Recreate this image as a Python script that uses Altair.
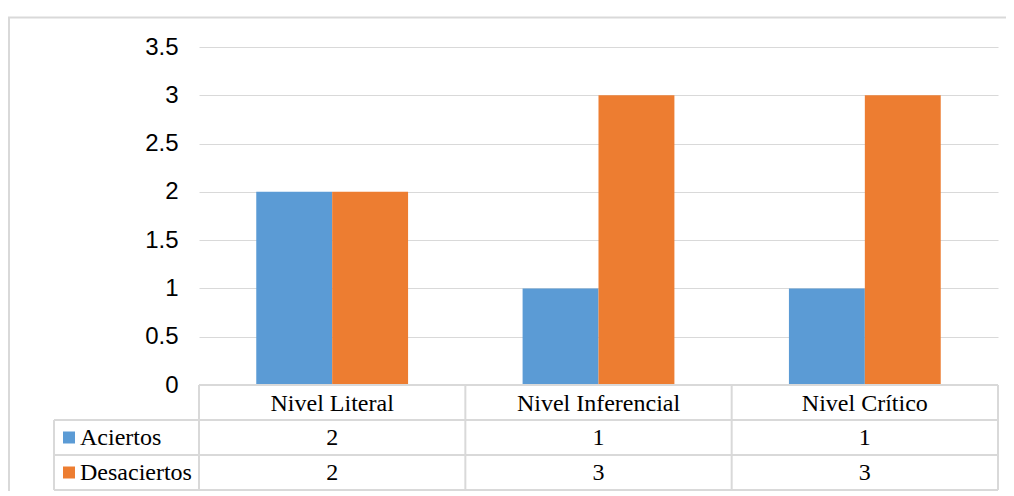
import altair as alt
import pandas as pd

categories = ["Nivel Literal", "Nivel Inferencial", "Nivel Crítico"]
series = ["Aciertos", "Desaciertos"]
aciertos = [2, 1, 1]
desaciertos = [2, 3, 3]
y_ticks = [0, 0.5, 1, 1.5, 2, 2.5, 3, 3.5]
colors = ["#5B9BD5", "#ED7D31"]

rows = []
for c, a, d in zip(categories, aciertos, desaciertos):
    rows.append({"Nivel": c, "Serie": series[0], "Valor": a})
    rows.append({"Nivel": c, "Serie": series[1], "Valor": d})
df = pd.DataFrame(rows)
cat_df = pd.DataFrame({"Nivel": categories})
ser_df = pd.DataFrame({"Serie": series})

# layout (pixels)
W = 799
BAR_H = 338           # height of the 0..3.5 region
ROW = 35              # table row height
H = BAR_H + 3 * ROW
Y_MAX = 3.5
px_per_unit = BAR_H / Y_MAX
Y_MIN = -(3 * ROW) / px_per_unit
STEP = W / 3
LEFT_COL = 145
GRID = "#d9d9d9"
SERIF = "Liberation Serif"

xs = alt.X("Nivel:N", sort=categories,
           scale=alt.Scale(paddingInner=0.43, paddingOuter=0.215), axis=None)
ys = alt.Y("Valor:Q", scale=alt.Scale(domain=[Y_MIN, Y_MAX], nice=False, zero=False),
           axis=alt.Axis(values=y_ticks, grid=True, domain=False, ticks=False,
                         labelFont="Liberation Sans", labelFontSize=24, labelColor="#000000",
                         labelPadding=21, gridColor=GRID, gridWidth=1.2, title=None,
                         labelExpr="datum.value"))
col = alt.Color("Serie:N", scale=alt.Scale(domain=series, range=colors), legend=None)

one = pd.DataFrame({"k": [0]})

border = alt.Chart(one).mark_rect(fill="transparent", stroke=GRID, strokeWidth=2).encode(
    x=alt.value(-190), x2=alt.value(W + 40), y=alt.value(-29.5), y2=alt.value(H + 40))

bars = alt.Chart(df).mark_bar().encode(
    x=xs, xOffset=alt.XOffset("Serie:N", sort=series), y=ys, y2=alt.datum(0), color=col)

line_style = dict(color=GRID, strokeWidth=2)
hlines = []
hlines.append(alt.Chart(one).mark_rule(**line_style).encode(
    x=alt.value(0), x2=alt.value(W), y=alt.value(BAR_H)))
for i in range(1, 4):
    hlines.append(alt.Chart(one).mark_rule(**line_style).encode(
        x=alt.value(-LEFT_COL), x2=alt.value(W), y=alt.value(BAR_H + i * ROW)))
vlines = [alt.Chart(one).mark_rule(**line_style).encode(
    x=alt.value(-LEFT_COL), y=alt.value(BAR_H + ROW), y2=alt.value(H))]
for i in range(0, 4):
    vlines.append(alt.Chart(one).mark_rule(**line_style).encode(
        x=alt.value(i * STEP), y=alt.value(BAR_H), y2=alt.value(H)))

text_style = dict(font=SERIF, fontSize=24, color="#000000", baseline="alphabetic")
header = alt.Chart(cat_df).mark_text(**text_style).encode(
    x=alt.X("Nivel:N", sort=categories, axis=None), y=alt.value(BAR_H + 26), text="Nivel:N")

value_rows = []
legend_layers = []
for i, s in enumerate(series):
    value_rows.append(alt.Chart(df).transform_filter(alt.datum.Serie == s).mark_text(**text_style).encode(
        x=alt.X("Nivel:N", sort=categories, axis=None),
        y=alt.value(BAR_H + ROW * (i + 1) + 25), text="Valor:Q"))
    sub = ser_df[ser_df.Serie == s]
    legend_layers.append(alt.Chart(sub).mark_square(size=144, opacity=1, filled=True).encode(
        x=alt.value(-130), y=alt.value(BAR_H + ROW * (i + 1) + 17.5), color=col))
    legend_layers.append(alt.Chart(sub).mark_text(align="left", **text_style).encode(
        x=alt.value(-119), y=alt.value(BAR_H + ROW * (i + 1) + 25), text="Serie:N"))

chart = alt.layer(border, bars, *hlines, *vlines, header, *value_rows, *legend_layers).properties(
    width=W, height=H,
    autosize=alt.AutoSizeParams(type="none"),
    padding={"left": 191, "top": 39, "right": 8, "bottom": 1},
    background="white",
).configure_view(stroke=None)

chart.save("out.html", embed_options={"renderer": "svg", "actions": False})
